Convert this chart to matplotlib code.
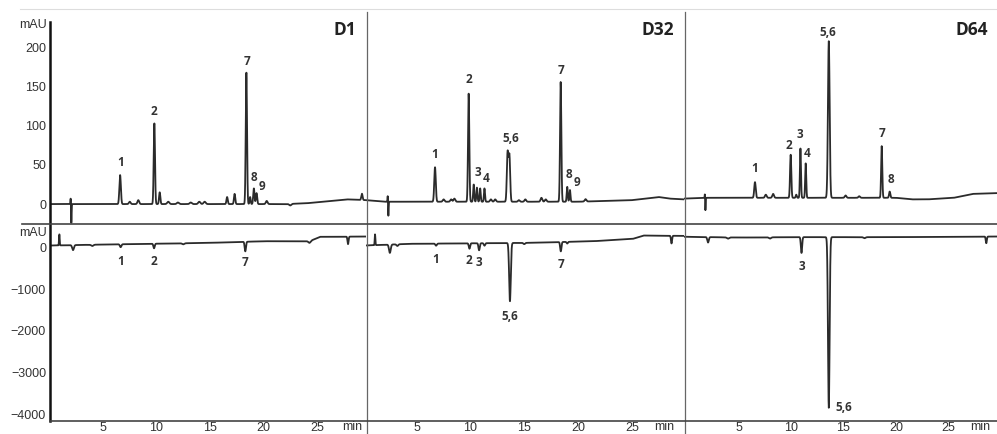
import numpy as np
import matplotlib
matplotlib.use("Agg")
import matplotlib.pyplot as plt
from matplotlib.lines import Line2D

# ---- data ----
# peaks: retention time (min), height above baseline (mAU), sigma (min)

# D1, top trace
d1_top_base_t = [0, 2, 10, 22, 24, 27.8, 29.6]
d1_top_base_v = [0, 0, 0, 0, 1, 6, 5]
d1_top_t = [1.98, 2.04, 6.6, 7.5, 8.3, 9.8, 10.3, 11.1, 12.0, 13.2, 14.0, 14.5, 16.6, 17.3, 18.4, 18.75, 19.1, 19.35, 20.3, 22.5, 29.2]
d1_top_h = [8, -24, 37, 3, 5, 103, 15, 3, 2, 2, 3, 3, 9, 13, 168, 9, 20, 14, 4, -2, 8]
d1_top_s = [0.02, 0.025, 0.07, 0.08, 0.08, 0.06, 0.06, 0.1, 0.1, 0.1, 0.1, 0.1, 0.06, 0.06, 0.06, 0.05, 0.06, 0.06, 0.08, 0.1, 0.06]
d1_top_lab = ["1", "2", "7", "8", "9"]
d1_top_lab_t = [6.65, 9.8, 18.43, 19.11, 19.89]
d1_top_lab_v = [52.5, 118, 182, 33.8, 22.7]

# D32, top trace
d32_top_base_t = [0.28, 2, 10, 20, 25, 27.5, 28.5, 29.86]
d32_top_base_v = [5, 3, 3, 3, 5, 9, 7, 6]
d32_top_t = [2.3, 2.36, 6.7, 7.5, 8.2, 8.5, 9.83, 10.3, 10.6, 10.9, 11.3, 11.9, 12.3, 13.45, 13.62, 14.5, 15.1, 16.6, 17.0, 18.39, 19.0, 19.25, 20.7]
d32_top_h = [8, -18, 44, 3, 3, 4, 138, 22, 18, 17, 17, 3, 3, 62, 58, 2, 3, 5, 3, 153, 19, 15, 3]
d32_top_s = [0.02, 0.025, 0.07, 0.08, 0.08, 0.08, 0.06, 0.05, 0.05, 0.05, 0.05, 0.08, 0.08, 0.07, 0.07, 0.08, 0.08, 0.08, 0.08, 0.06, 0.05, 0.05, 0.08]
d32_top_lab = ["1", "2", "3", "4", "5,6", "7", "8", "9"]
d32_top_lab_t = [6.7, 9.89, 10.7, 11.44, 13.74, 18.39, 19.16, 19.88]
d32_top_lab_v = [63, 159.5, 39.7, 32.5, 84.3, 170.4, 37.6, 27]

# D64, top trace
d64_top_base_t = [-0.19, 2, 20, 21.5, 23, 25.5, 27.3, 29.62]
d64_top_base_v = [7, 8, 8, 6, 6, 8, 13, 14]
d64_top_t = [1.8, 1.85, 6.57, 7.6, 8.3, 9.97, 10.5, 10.9, 11.4, 13.6, 15.2, 16.5, 18.64, 19.4]
d64_top_h = [6, -16, 20, 4, 5, 55, 4, 63, 44, 200, 3, 2, 66, 8]
d64_top_s = [0.02, 0.025, 0.07, 0.08, 0.08, 0.06, 0.05, 0.05, 0.05, 0.08, 0.08, 0.08, 0.055, 0.06]
d64_top_lab = ["1", "2", "3", "4", "5,6", "7", "8"]
d64_top_lab_t = [6.57, 9.84, 10.86, 11.55, 13.49, 18.7, 19.5]
d64_top_lab_v = [44.8, 74.5, 88.5, 64.3, 218.9, 90.7, 31.2]

# D1, bottom trace
d1_bot_base_t = [0, 4.9, 15, 20, 24.3, 25.3, 29.6]
d1_bot_base_v = [48, 72, 113, 152, 152, 258, 265]
d1_bot_t = [0.92, 2.2, 4.0, 6.65, 9.77, 12.5, 18.3, 24.3, 27.9]
d1_bot_h = [265, -120, -30, -70, -110, -25, -230, -40, -180]
d1_bot_s = [0.03, 0.08, 0.1, 0.07, 0.06, 0.1, 0.06, 0.1, 0.05]
d1_bot_lab = ["1", "2", "7"]
d1_bot_lab_t = [6.65, 9.77, 18.27]
d1_bot_lab_v = [-330, -330, -369]

# D32, bottom trace
d32_bot_base_t = [0.28, 4.4, 15.2, 21.4, 25.1, 26.1, 29.86]
d32_bot_base_v = [50, 90, 113, 152, 209, 289, 280]
d32_bot_t = [1.12, 2.5, 3.2, 6.8, 9.9, 10.8, 11.3, 13.67, 15.0, 18.4, 19.0, 28.7]
d32_bot_h = [260, -200, -40, -50, -130, -170, -60, -1400, -30, -225, -40, -185]
d32_bot_s = [0.03, 0.08, 0.08, 0.07, 0.06, 0.06, 0.06, 0.075, 0.08, 0.06, 0.06, 0.05]
d32_bot_lab = ["1", "2", "3", "5,6", "7"]
d32_bot_lab_t = [6.77, 9.89, 10.82, 13.67, 18.39]
d32_bot_lab_v = [-290, -306, -369, -1655, -410]

# D64, bottom trace
d64_bot_base_t = [-0.19, 5, 10, 20, 29.62]
d64_bot_base_v = [260, 240, 250, 250, 265]
d64_bot_t = [2.1, 4.0, 8.0, 11.0, 13.6, 17.0, 28.6]
d64_bot_h = [-130, -30, -30, -380, -4100, -25, -160]
d64_bot_s = [0.07, 0.1, 0.1, 0.06, 0.075, 0.1, 0.05]
d64_bot_lab = ["3", "5,6"]
d64_bot_lab_t = [11.02, 15.05]
d64_bot_lab_v = [-466, -3840]

panel_names = ["D1", "D32", "D64"]
top_yticks = [0, 50, 100, 150, 200]
bot_yticks = [0, -1000, -2000, -3000, -4000]
x_ticks = [5, 10, 15, 20, 25]


def trace(t, base_t, base_v, pt, ph, ps):
    y = np.interp(t, base_t, base_v)
    for c, h, s in zip(pt, ph, ps):
        y = y + h * np.exp(-0.5 * ((t - c) / s) ** 2)
    return y


W, H = 997, 434
fig = plt.figure(figsize=(W / 100, H / 100), dpi=100)
fig.patch.set_facecolor("white")


def rect(x0, x1, y0, y1):
    return [x0 / W, 1 - y1 / H, (x1 - x0) / W, (y1 - y0) / H]


px = [(49.5, 366), (366, 684), (684, 997)]
xlims = [(0, 29.58), (0.28, 29.86), (-0.19, 29.62)]

tops = [
    (d1_top_base_t, d1_top_base_v, d1_top_t, d1_top_h, d1_top_s, d1_top_lab, d1_top_lab_t, d1_top_lab_v),
    (d32_top_base_t, d32_top_base_v, d32_top_t, d32_top_h, d32_top_s, d32_top_lab, d32_top_lab_t, d32_top_lab_v),
    (d64_top_base_t, d64_top_base_v, d64_top_t, d64_top_h, d64_top_s, d64_top_lab, d64_top_lab_t, d64_top_lab_v),
]
bots = [
    (d1_bot_base_t, d1_bot_base_v, d1_bot_t, d1_bot_h, d1_bot_s, d1_bot_lab, d1_bot_lab_t, d1_bot_lab_v),
    (d32_bot_base_t, d32_bot_base_v, d32_bot_t, d32_bot_h, d32_bot_s, d32_bot_lab, d32_bot_lab_t, d32_bot_lab_v),
    (d64_bot_base_t, d64_bot_base_v, d64_bot_t, d64_bot_h, d64_bot_s, d64_bot_lab, d64_bot_lab_t, d64_bot_lab_v),
]

tick_font = dict(family="Liberation Sans", size=9, color="#333333")
lab_font = dict(family="Open Sans", weight="bold", size=8.5, color="#333333")
line_col = "#2b2b2b"


def style_ticks(labels):
    for tl in labels:
        tl.set_fontfamily(tick_font["family"])
        tl.set_fontsize(tick_font["size"])
        tl.set_color(tick_font["color"])


for i in range(3):
    x0, x1 = px[i]
    t = np.linspace(xlims[i][0], xlims[i][1], 4000)

    ax = fig.add_axes(rect(x0, x1, 10, 223.5))
    bt, bv, pt, ph, ps, lab, lt, lv = tops[i]
    ax.plot(t, trace(t, bt, bv, pt, ph, ps), color=line_col, lw=1.3)
    for s, xx, yy in zip(lab, lt, lv):
        ax.text(xx, yy, s, ha="center", va="center", **lab_font)
    ax.set_xlim(*xlims[i])
    ax.set_ylim(-24.8, 247.8)
    ax.set_xticks([])
    if i == 0:
        ax.set_yticks(top_yticks)
        ax.tick_params(axis="y", length=0, pad=2.5)
        style_ticks(ax.get_yticklabels())
    else:
        ax.set_yticks([])
    for sp in ax.spines.values():
        sp.set_visible(False)
    ax.patch.set_alpha(0)
    ax.text(0.97, 0.905, panel_names[i], transform=ax.transAxes, ha="right", va="center",
            family="Open Sans", weight="bold", size=12.5, color="#222222")

    axb = fig.add_axes(rect(x0, x1, 223.5, 420.7))
    bt, bv, pt, ph, ps, lab, lt, lv = bots[i]
    axb.plot(t, trace(t, bt, bv, pt, ph, ps), color=line_col, lw=1.3)
    for s, xx, yy in zip(lab, lt, lv):
        axb.text(xx, yy, s, ha="center", va="center", **lab_font)
    axb.set_xlim(*xlims[i])
    axb.set_ylim(-4161, 578)
    axb.set_xticks(x_ticks)
    axb.tick_params(axis="x", length=0, pad=1.0)
    style_ticks(axb.get_xticklabels())
    if i == 0:
        axb.set_yticks(bot_yticks)
        axb.tick_params(axis="y", length=0, pad=2.5)
        style_ticks(axb.get_yticklabels())
    else:
        axb.set_yticks([])
    for sp in axb.spines.values():
        sp.set_visible(False)
    axb.patch.set_alpha(0)


def fline(xs, ys, **kw):
    fig.add_artist(Line2D([x / W for x in xs], [1 - y / H for y in ys], transform=fig.transFigure, **kw))


# frame lines
fline([20, 997], [9, 9], color="#dddddd", lw=0.8)
fline([50, 50], [21.7, 421], color="#111111", lw=1.8)
fline([366.5, 366.5], [12, 434], color="#666666", lw=0.9)
fline([684.5, 684.5], [12, 434], color="#666666", lw=0.9)
fline([22, 997], [223.5, 223.5], color="#444444", lw=1.2)
fline([50, 997], [420.7, 420.7], color="#444444", lw=1.2)

# unit labels
for yy in (25, 233):
    fig.text(33 / W, 1 - yy / H, "mAU", ha="center", va="center", **tick_font)
for xx, yy in [(352, 427), (664, 427), (980, 427)]:
    fig.text(xx / W, 1 - yy / H, "min", ha="center", va="center", **tick_font)

fig.savefig("out.png", dpi=100)
